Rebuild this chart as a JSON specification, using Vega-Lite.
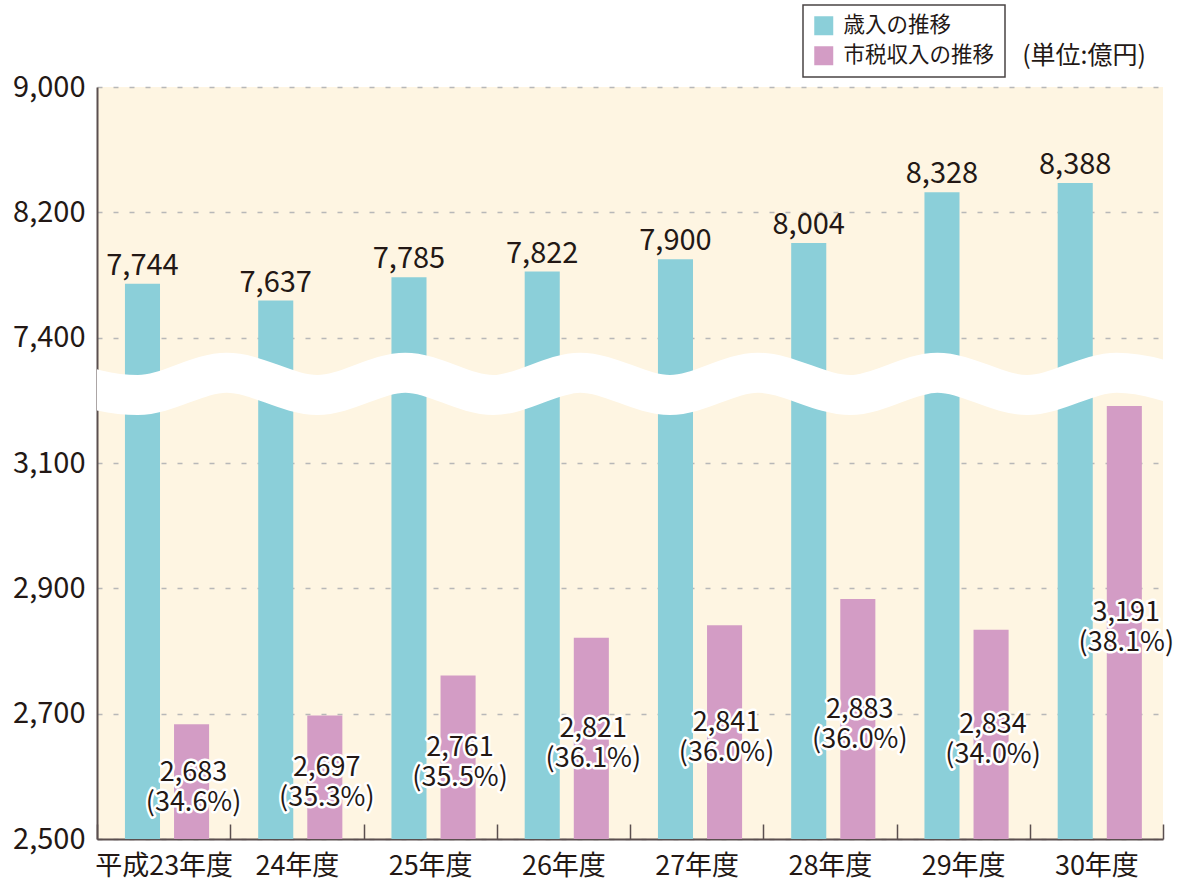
{
  "$schema": "https://vega.github.io/schema/vega-lite/v6.json",
  "width": 1066,
  "height": 752,
  "autosize": "none",
  "padding": {"left": 97, "top": 87, "right": 19, "bottom": 48},
  "background": "white",
  "config": {
    "view": {"fill": "#FEF5E2", "stroke": null},
    "font": "Noto Sans CJK JP",
    "text": {"font": "Noto Sans CJK JP"},
    "legend": {"strokeWidth": 1.5}
  },
  "title": {
    "text": "(単位:億円)",
    "anchor": "end",
    "frame": "group",
    "orient": "top",
    "fontSize": 25,
    "fontWeight": "normal",
    "font": "Noto Sans CJK JP",
    "color": "#231815",
    "offset": 10,
    "dx": -17,
    "dy": 75
  },
  "datasets": {
    "bars": [
      {"year": "平成23年度", "series": "歳入の推移", "value": 7744},
      {"year": "平成23年度", "series": "市税収入の推移", "value": 2683, "share": 34.6},
      {"year": "24年度", "series": "歳入の推移", "value": 7637},
      {"year": "24年度", "series": "市税収入の推移", "value": 2697, "share": 35.3},
      {"year": "25年度", "series": "歳入の推移", "value": 7785},
      {"year": "25年度", "series": "市税収入の推移", "value": 2761, "share": 35.5},
      {"year": "26年度", "series": "歳入の推移", "value": 7822},
      {"year": "26年度", "series": "市税収入の推移", "value": 2821, "share": 36.1},
      {"year": "27年度", "series": "歳入の推移", "value": 7900},
      {"year": "27年度", "series": "市税収入の推移", "value": 2841, "share": 36.0},
      {"year": "28年度", "series": "歳入の推移", "value": 8004},
      {"year": "28年度", "series": "市税収入の推移", "value": 2883, "share": 36.0},
      {"year": "29年度", "series": "歳入の推移", "value": 8328},
      {"year": "29年度", "series": "市税収入の推移", "value": 2834, "share": 34.0},
      {"year": "30年度", "series": "歳入の推移", "value": 8388},
      {"year": "30年度", "series": "市税収入の推移", "value": 3191, "share": 38.1}
    ],
    "wave": [
      {"t": -0.54, "h": 1},
      {"t": 0, "h": -0.55},
      {"t": 0.46, "h": -1},
      {"t": 1.46, "h": 1},
      {"t": 2.48, "h": -1},
      {"t": 3.47, "h": 1},
      {"t": 4.46, "h": -1},
      {"t": 5.44, "h": 1},
      {"t": 6.45, "h": -1},
      {"t": 7.44, "h": 1},
      {"t": 8.48, "h": -1},
      {"t": 9.46, "h": 1},
      {"t": 10.47, "h": -1},
      {"t": 11.48, "h": 1},
      {"t": 12.48, "h": -1}
    ]
  },
  "layer": [
    {
      "data": {"name": "bars"},
      "mark": {"type": "bar"},
      "encoding": {
        "x": {
          "field": "year", "type": "nominal", "sort": null,
          "scale": {"paddingInner": 0, "paddingOuter": 0},
          "axis": {
            "title": null, "labelAngle": 0, "labelFontSize": 27, "labelColor": "#231815",
            "labelFont": "Noto Sans CJK JP",
            "domainColor": "#5a4f4f", "domainWidth": 2,
            "tickColor": "#5a4f4f", "tickWidth": 1.5, "tickSize": -15, "tickBand": "extent",
            "labelPadding": 29, "grid": false
          }
        },
        "xOffset": {
          "field": "series", "type": "nominal", "sort": null,
          "scale": {"domain": ["歳入の推移", "市税収入の推移"], "range": [3.4, 136.65], "paddingInner": 0.2857, "paddingOuter": 0.5}
        },
        "y": {
          "field": "value", "type": "quantitative",
          "scale": {"domain": [2500, 3220, 7150, 9000], "range": [752, 300.8, 289.83, 0], "nice": false, "zero": false},
          "axis": {
            "values": [2500, 2700, 2900, 3100, 7400, 8200, 9000], "format": ",.0f", "title": null,
            "grid": true, "gridDash": [5, 11], "gridColor": "#b8b8b8", "gridWidth": 1.5,
            "domainColor": "#5a4f4f", "domainWidth": 2, "ticks": false, "labelPadding": 12,
            "labelFontSize": 29, "labelColor": "#231815", "labelFont": "Noto Sans CJK JP"
          }
        },
        "y2": {"datum": 2500},
        "color": {
          "field": "series", "type": "nominal", "sort": null,
          "scale": {"domain": ["歳入の推移", "市税収入の推移"], "range": ["#8BCFD9", "#D39CC5"]},
          "legend": {
            "orient": "none", "legendX": 706, "legendY": -82, "title": null,
            "symbolType": "square", "symbolSize": 361, "symbolStrokeWidth": 0,
            "labelFontSize": 21.5, "labelFont": "Noto Sans CJK JP", "labelColor": "#231815",
            "labelOffset": 9, "rowPadding": 7, "padding": 10,
            "strokeColor": "#4a4444", "fillColor": "white"
          }
        }
      }
    },
    {
      "data": {"name": "wave"},
      "mark": {"type": "line", "color": "white", "strokeWidth": 40, "interpolate": "monotone", "strokeCap": "butt", "clip": true},
      "encoding": {
        "x": {"field": "t", "type": "quantitative", "scale": {"domain": [0, 12], "nice": false, "zero": false}, "axis": null},
        "y": {"field": "h", "type": "quantitative", "scale": {"domain": [-1, 1], "range": [308, 285.7], "nice": false, "zero": false}, "axis": null}
      }
    },
    {
      "data": {"name": "bars"},
      "transform": [{"filter": "datum.series === '歳入の推移'"}],
      "mark": {"type": "text", "baseline": "alphabetic", "dy": -9, "fontSize": 29, "color": "#231815"},
      "encoding": {
        "x": {"field": "year", "type": "nominal", "sort": null, "scale": {"paddingInner": 0, "paddingOuter": 0}, "axis": null},
        "xOffset": {"field": "series", "type": "nominal", "sort": null, "scale": {"domain": ["歳入の推移", "市税収入の推移"], "range": [3.4, 136.65], "paddingInner": 0.2857, "paddingOuter": 0.5}},
        "y": {"field": "value", "type": "quantitative", "scale": {"domain": [2500, 3220, 7150, 9000], "range": [752, 300.8, 289.83, 0], "nice": false, "zero": false}, "axis": null},
        "text": {"field": "value", "format": ","}
      }
    },
    {
      "data": {"name": "bars"},
      "transform": [{"filter": "datum.series === '市税収入の推移'"}],
      "encoding": {
        "x": {"field": "year", "type": "nominal", "sort": null, "scale": {"paddingInner": 0, "paddingOuter": 0}, "axis": null},
        "xOffset": {"field": "series", "type": "nominal", "sort": null, "scale": {"domain": ["歳入の推移", "市税収入の推移"], "range": [3.4, 136.65], "paddingInner": 0.2857, "paddingOuter": 0.5}},
        "y": {"field": "value", "type": "quantitative", "scale": {"domain": [2500, 3220, 7150, 9000], "range": [752, 526.4, 520.92, 376], "nice": false, "zero": false}, "axis": null}
      },
      "layer": [
        {
          "mark": {"type": "text", "baseline": "alphabetic", "dx": 2, "dy": -1, "fontSize": 27, "lineHeight": 30, "lineBreak": "\n", "fill": "white", "stroke": "white", "strokeWidth": 5, "strokeJoin": "round", "text": {"expr": "format(datum.value, ',') + '\\n(' + format(datum.share, '.1f') + '%)'"}}
        },
        {
          "mark": {"type": "text", "baseline": "alphabetic", "dx": 2, "dy": -1, "fontSize": 27, "lineHeight": 30, "lineBreak": "\n", "color": "#231815", "text": {"expr": "format(datum.value, ',') + '\\n(' + format(datum.share, '.1f') + '%)'"}}
        }
      ]
    }
  ],
  "resolve": {"scale": {"x": "independent", "y": "independent"}}
}
